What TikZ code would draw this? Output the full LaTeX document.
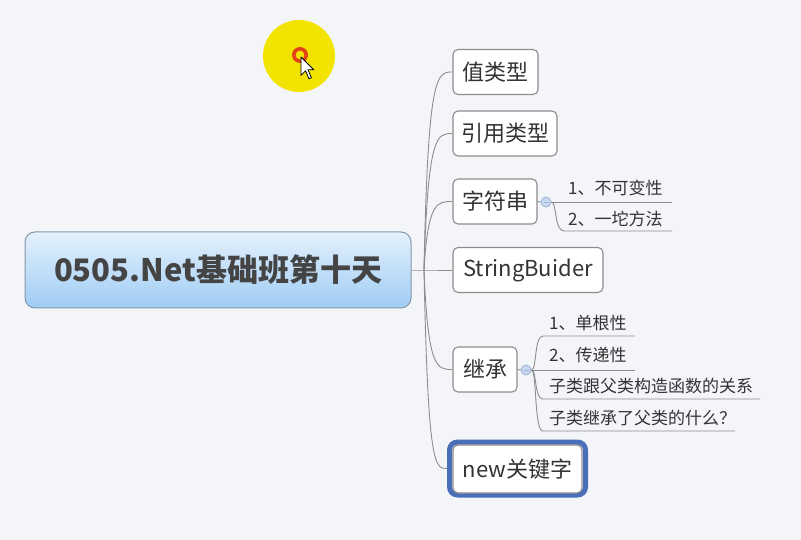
\documentclass[tikz,border=0pt]{standalone}
\usepackage{fontspec}
\setmainfont{Noto Sans CJK SC}
\definecolor{bg}{HTML}{F4F5F9}
\definecolor{boxline}{HTML}{8C8C8C}
\definecolor{txt}{HTML}{333333}
\definecolor{roottxt}{HTML}{444444}
\definecolor{rootline}{HTML}{8497AA}
\definecolor{rootTop}{HTML}{E4F0FC}
\definecolor{rootBot}{HTML}{9FCDF5}
\definecolor{linec}{HTML}{8E8E8E}
\definecolor{knobfill}{HTML}{CAD9EF}
\definecolor{knobline}{HTML}{9AB1D6}
\definecolor{selblue}{HTML}{4A6FB8}
\definecolor{hiyellow}{HTML}{F2E400}
\definecolor{hired}{HTML}{E2421A}
\begin{document}
\begin{tikzpicture}[x=1pt,y=-1pt,
  rootbox/.style={draw=rootline, line width=1pt, rounded corners=10pt,
    top color=rootTop, bottom color=rootBot, inner sep=0pt,
    font=\bfseries\fontsize{31}{36}\selectfont, text=roottxt},
  branch/.style={draw=boxline, line width=1.1pt, fill=white, rounded corners=5pt,
    inner sep=0pt, minimum height=45pt, font=\fontsize{22}{26}\selectfont, text=txt},
  selring/.style={draw=selblue, line width=5pt, rounded corners=8pt, inner sep=0pt},
  subtext/.style={inner sep=0pt, anchor=west, font=\fontsize{17}{20}\selectfont, text=txt},
  conn/.style={draw=linec, line width=0.9pt},
  knob/.style={circle, draw=knobline, fill=knobfill, minimum size=10pt, inner sep=0pt,
    line width=0.8pt,
    path picture={\draw[knobline, line width=0.8pt]
      ([xshift=-2.5pt]path picture bounding box.center) --
      ([xshift=2.5pt]path picture bounding box.center);}},
]
\useasboundingbox (0,0) rectangle (801,540);
\fill[bg] (0,0) rectangle (801,540);

% cursor highlight
\fill[hiyellow] (299,56) circle (36);
\fill[hired, even odd rule] (300,55) circle (8) (300,55) circle (4.5);
\filldraw[fill=white, draw=black, line width=0.8pt, line join=round]
  (301,57) -- (301,75.4) -- (305.6,70.8) -- (309,78.8) -- (311.4,77.7)
  -- (308,69.7) -- (313.7,69.7) -- cycle;

% root
\node[rootbox, minimum width=386pt, minimum height=76pt] (root) at (218,270) {0505.Net基础班第十天};
\coordinate (hub) at (424,270);

% branches
\node[branch, minimum width=85pt] (b1) at (495.5,72) {值类型};
\node[branch, minimum width=104pt] (b2) at (505,133.5) {引用类型};
\node[branch, minimum width=84pt] (b3) at (495,201.5) {字符串};
\node[branch, minimum width=150pt] (b4) at (528,270) {StringBuider};
\node[branch, minimum width=64pt] (b5) at (485,369.5) {继承};
\node[selring, minimum width=136pt, minimum height=53pt] (b6sel) at (517.5,468.5) {};
\node[branch, minimum width=129pt, minimum height=48pt] (b6) at (517.5,469) {new关键字};

\draw[conn] (root.east) -- (hub) -- (b4.west);
\draw[conn] (hub) .. controls (428,72) and (437,72) .. (b1.west);
\draw[conn] (hub) .. controls (428,133.5) and (437,133.5) .. (b2.west);
\draw[conn] (hub) .. controls (428,201.5) and (437,201.5) .. (b3.west);
\draw[conn] (hub) .. controls (428,369.5) and (437,369.5) .. (b5.west);
\draw[conn] (hub) .. controls (428,468.5) and (435,468.5) .. (b6sel.west);

% string sub-items
\node[knob] (k1) at (546,202) {};
\draw[conn] (b3.east) -- (k1.west);
\coordinate (u1b) at (672,202);
\coordinate (u2a) at (564,231);
\coordinate (u2b) at (672,231);
\draw[conn] (k1.east) -- (u1b);
\draw[conn] (k1.east) .. controls (557,202) and (554,231) .. (u2a) -- (u2b);
\node[subtext] (s1) at (568,188) {1、不可变性};
\node[subtext] (s2) at (568,219) {2、一坨方法};

% inheritance sub-items
\node[knob] (k2) at (526,370) {};
\draw[conn] (b5.east) -- (k2.west);
\coordinate (v1a) at (543,336);
\coordinate (v1b) at (635,336);
\coordinate (v2b) at (635,370);
\coordinate (v3a) at (543,399);
\coordinate (v3b) at (760,399);
\coordinate (v4a) at (543,431);
\coordinate (v4b) at (735,431);
\draw[conn] (k2.east) .. controls (537,370) and (534,336) .. (v1a) -- (v1b);
\draw[conn] (k2.east) -- (v2b);
\draw[conn] (k2.east) .. controls (537,370) and (534,399) .. (v3a) -- (v3b);
\draw[conn] (k2.east) .. controls (537,370) and (534,431) .. (v4a) -- (v4b);
\node[subtext] (t1) at (549,323) {1、单根性};
\node[subtext] (t2) at (549,355) {2、传递性};
\node[subtext] (t3) at (549,386) {子类跟父类构造函数的关系};
\node[subtext] (t4) at (549,418) {子类继承了父类的什么？};
\end{tikzpicture}
\end{document}
